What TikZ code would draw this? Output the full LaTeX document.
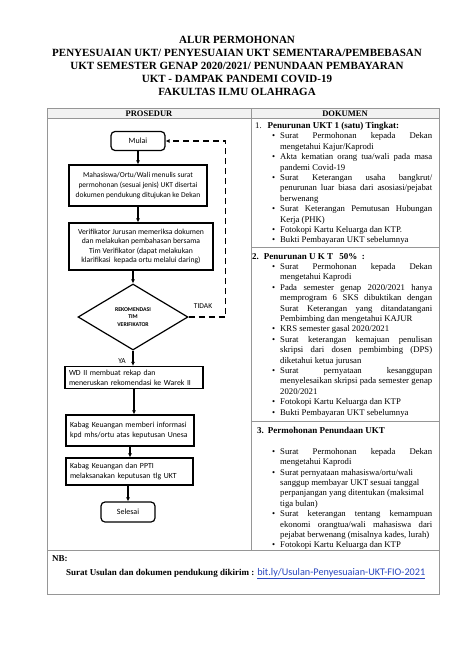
\documentclass[tikz,border=0pt]{standalone}
\usepackage{fontspec}
\setmainfont{Liberation Serif}
\newfontfamily\calibri{Carlito}
\usetikzlibrary{shapes.geometric,arrows.meta}
\definecolor{garis}{RGB}{150,150,150}
\definecolor{tautan}{RGB}{40,70,190}
% butir daftar dokumen
\newcommand{\butir}[1]{\par\noindent\llap{\textbullet\hspace{5pt}}#1}
\begin{document}
\begin{tikzpicture}[x=1pt,y=-1pt,
    kotak/.style={draw, line width=1.2pt, inner sep=0pt, align=center,
      font=\calibri\fontsize{7.5}{10}\selectfont},
    kotakkiri/.style={draw, line width=1.2pt, inner xsep=4pt, inner ysep=0pt, align=left,
      font=\calibri\fontsize{7.8}{10}\selectfont},
    bulat/.style={draw, line width=1.2pt, rounded corners=4pt, inner sep=0pt,
      minimum width=54pt, minimum height=19pt, font=\calibri\fontsize{8}{9}\selectfont},
    panah/.style={line width=1.3pt, -{Latex[length=4pt,width=4pt]}},
    dok/.style={anchor=north west, inner sep=0pt, text width=177pt, align=justify,
      font=\fontsize{8.7}{10.4}\selectfont},
    label/.style={font=\calibri\fontsize{7.5}{8}\selectfont}]
  \useasboundingbox (0,0) rectangle (474,669);
  \hyphenpenalty=10000
  % judul
  \node[align=center, font=\bfseries\fontsize{11}{13}\selectfont] (judul) at (237,66)
    {ALUR PERMOHONAN\\
     PENYESUAIAN UKT/ PENYESUAIAN UKT SEMENTARA/PEMBEBASAN\\
     UKT SEMESTER GENAP 2020/2021/ PENUNDAAN PEMBAYARAN\\
     UKT - DAMPAK PANDEMI COVID-19\\
     FAKULTAS ILMU OLAHRAGA};

  % tabel
  \fill[gray!10] (47,108) rectangle (439,118);
  \draw[garis, line width=0.8pt] (47,108) rectangle (439,594);
  \draw[garis, line width=0.8pt] (47,118) -- (439,118);
  \draw[garis, line width=0.8pt] (251,108) -- (251,550);
  \draw[garis, line width=0.8pt] (47,550) -- (439,550);
  \draw[garis, line width=0.8pt] (251,247) -- (439,247);
  \draw[garis, line width=0.8pt] (251,421) -- (439,421);
  \node[font=\bfseries\fontsize{8.5}{9}\selectfont] (prosedur) at (149,113.5) {PROSEDUR};
  \node[font=\bfseries\fontsize{8.5}{9}\selectfont] (dokumen) at (345,113.5) {DOKUMEN};

  % diagram alir
  \node[bulat] (mulai) at (138,141) {Mulai};
  \node[kotak, minimum width=138pt, minimum height=41pt] (surat) at (138,185.5)
    {Mahasiswa/Ortu/Wali menulis surat\\permohonan (sesuai jenis) UKT disertai\\dokumen pendukung ditujukan ke Dekan};
  \node[kotak, minimum width=144pt, minimum height=47pt, font=\calibri\fontsize{7.7}{9.6}\selectfont] (verifikasi) at (141,246.5)
    {Verifikator Jurusan memeriksa dokumen\\dan melakukan pembahasan bersama\\Tim Verifikator (dapat melakukan\\klarifikasi\ \ kepada ortu melalui daring)};
  \node[draw, line width=1.2pt, shape=diamond, aspect=1.67, minimum width=110pt,
    minimum height=66pt, inner sep=0pt, align=center,
    font=\calibri\bfseries\fontsize{5.8}{7.5}\selectfont] (rekomendasi) at (133,317)
    {REKOMENDASI\\TIM\\VERIFIKATOR};
  \node[kotakkiri, text width=130pt, minimum height=22pt] (rekap) at (134,377.5)
    {WD II membuat rekap dan\\meneruskan rekomendasi ke Warek II};
  \node[kotakkiri, text width=120pt, minimum height=31pt] (informasi) at (130,430.5)
    {Kabag Keuangan memberi informasi\\kpd mhs/ortu atas keputusan Unesa};
  \node[kotakkiri, text width=119pt, minimum height=27pt] (pelaksanaan) at (129.5,471.5)
    {Kabag Keuangan dan PPTI\\melaksanakan keputusan tlg UKT};
  \node[bulat, minimum height=20pt] (selesai) at (128,512) {Selesai};

  \draw[panah] (mulai.south) -- (mulai.south |- surat.north);
  \draw[panah] (surat.south) -- (surat.south |- verifikasi.north);
  \draw[panah] (rekomendasi.north |- verifikasi.south) -- (rekomendasi.north);
  \draw[panah] (rekomendasi.south) -- (rekomendasi.south |- rekap.north);
  \draw[panah] (rekap.south) -- (rekap.south |- informasi.north);
  \draw[panah] (informasi.south) -- (informasi.south |- pelaksanaan.north);
  \draw[panah] (selesai.north |- pelaksanaan.south) -- (selesai.north);
  % kembali jika tidak direkomendasikan
  \draw[panah, dash pattern=on 6pt off 4pt] (rekomendasi.east) -- ++(37,0) |- (mulai.east);
  \node[label] (ya) at (122,361) {YA};
  \node[label] (tidak) at (203,306) {TIDAK};

  % kolom dokumen
  \node[dok] (bagian1) at (255,122) {%
    \noindent 1.\hspace{6pt}{\fontsize{9}{10.4}\selectfont\textbf{Penurunan UKT 1 (satu) Tingkat:}}\par
    \leftskip=25pt
    \butir{Surat Permohonan kepada Dekan\linebreak mengetahui Kajur/Kaprodi}
    \butir{Akta kematian orang tua/wali pada masa\linebreak pandemi Covid-19}
    \butir{Surat Keterangan usaha bangkrut/\linebreak penurunan luar biasa dari asosiasi/pejabat\linebreak berwenang}
    \butir{Surat Keterangan Pemutusan Hubungan\linebreak Kerja (PHK)}
    \butir{Fotokopi Kartu Keluarga dan KTP.}
    \butir{Bukti Pembayaran UKT sebelumnya}\par};
  \node[dok] (bagian2) at (255,253) {%
    \noindent\hspace*{-3pt}{\fontsize{9}{10.4}\selectfont\textbf{2.\hspace{5pt}Penurunan U K T\hspace{4pt} 50\% \ :}}\par
    \leftskip=25pt
    \butir{Surat Permohonan kepada Dekan\linebreak mengetahui Kaprodi}
    \butir{Pada semester genap 2020/2021 hanya\linebreak memprogram 6 SKS dibuktikan dengan\linebreak Surat Keterangan yang ditandatangani\linebreak Pembimbing dan mengetahui KAJUR}
    \butir{KRS semester gasal 2020/2021}
    \butir{Surat keterangan kemajuan penulisan\linebreak skripsi dari dosen pembimbing (DPS)\linebreak diketahui ketua jurusan}
    \butir{Surat pernyataan kesanggupan\linebreak menyelesaikan skripsi pada semester genap\linebreak 2020/2021}
    \butir{Fotokopi Kartu Keluarga dan KTP}
    \butir{Bukti Pembayaran UKT sebelumnya}\par};
  \node[dok] (bagian3) at (255,427) {%
    \noindent\hspace*{2pt}{\fontsize{9}{10.4}\selectfont\textbf{3.\hspace{4pt}Permohonan Penundaan UKT}}\par
    \vskip 10.4pt
    \leftskip=25pt
    \butir{Surat Permohonan kepada Dekan\linebreak mengetahui Kaprodi}
    \butir{Surat pernyataan mahasiswa/ortu/wali\\ sanggup membayar UKT sesuai tanggal\\ perpanjangan yang ditentukan (maksimal\\ tiga bulan)}
    \butir{Surat keterangan tentang kemampuan\linebreak ekonomi orangtua/wali mahasiswa dari\linebreak pejabat berwenang (misalnya kades, lurah)}
    \butir{Fotokopi Kartu Keluarga dan KTP}\par};

  % catatan
  \node[anchor=base west, inner sep=0pt, font=\bfseries\fontsize{9}{10}\selectfont] (nb) at (52,561) {NB:};
  \node[anchor=base west, inner sep=0pt, font=\fontsize{9}{10}\selectfont] (kirim) at (66,575)
    {\textbf{Surat Usulan dan dokumen pendukung dikirim :} {\calibri\fontsize{10.2}{11}\selectfont\color{tautan}\underline{bit.ly/Usulan-Penyesuaian-UKT-FIO-2021}}};
\end{tikzpicture}
\end{document}
